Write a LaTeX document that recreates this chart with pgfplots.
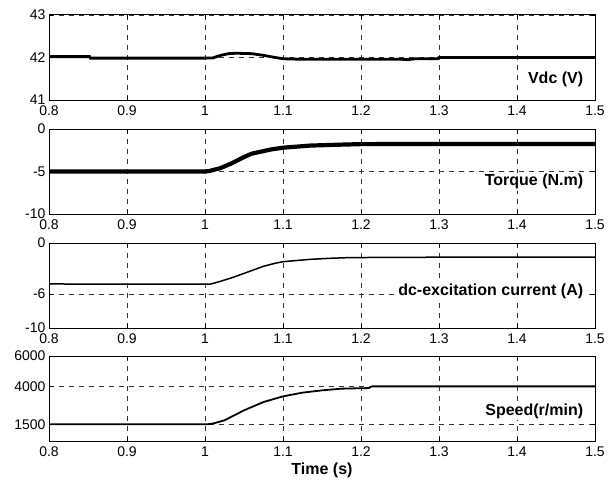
\documentclass[border=0pt]{standalone}
\usepackage{fontspec}
\setmainfont{Liberation Sans}
\usepackage{pgfplots}
\pgfplotsset{compat=1.18}

\pgfplotsset{panel/.style={
  scale only axis, width=546pt, height=85pt, anchor=north west,
  xmin=0.8, xmax=1.5, xtick={0.8,0.9,1,1.1,1.2,1.3,1.4,1.5},
  grid=major,
  major grid style={black!80, dash pattern=on 5pt off 5pt, line width=0.5pt},
  axis line style={line width=1pt},
  tick style={black, line width=0.6pt}, major tick length=4pt,
  tick label style={font=\fontsize{14}{14}\selectfont},
  xticklabel style={yshift=-2pt},
  /pgf/number format/assume math mode=true,
  /pgf/number format/1000 sep={},
  scaled ticks=false,
}}
\tikzset{lbl/.style={anchor=east, fill=white, inner sep=1.5pt,
  font=\bfseries\fontsize{16}{16}\selectfont}}

\begin{document}
\begin{tikzpicture}
\useasboundingbox (0,0) rectangle (609pt,-484pt);

% Vdc
\begin{axis}[panel, at={(49pt,-15pt)}, ymin=41, ymax=43, ytick={41,42,43}]
\addplot[black, line width=2.8pt] coordinates {
  (0.8,42.02)(0.852,42.02)(0.853,41.985)(1.0,41.985)(1.01,41.99)(1.02,42.05)
  (1.03,42.09)(1.04,42.10)(1.06,42.09)(1.075,42.05)(1.09,42.0)(1.1,41.97)
  (1.12,41.96)(1.25,41.96)(1.26,41.95)(1.27,41.97)(1.298,41.97)(1.3,42.0)(1.5,42.0)};
\node[lbl] at (axis cs:1.487,41.49) {Vdc (V)};
\end{axis}

% Torque
\begin{axis}[panel, at={(49pt,-129pt)}, ymin=-10, ymax=0, ytick={-10,-5,0}]
\addplot[black, line width=4.2pt] coordinates {
  (0.8,-5)(1.0,-5)(1.005,-4.95)(1.02,-4.6)(1.035,-4.0)(1.05,-3.3)(1.06,-2.9)
  (1.085,-2.4)(1.1,-2.2)(1.135,-1.95)(1.17,-1.85)(1.2,-1.78)(1.3,-1.76)(1.5,-1.76)};
\node[lbl] at (axis cs:1.487,-6.2) {Torque (N.m)};
\end{axis}

% dc-excitation current
\begin{axis}[panel, at={(49pt,-243pt)}, ymin=-10, ymax=0, ytick={-10,-6,0}]
\addplot[black, line width=1.5pt] coordinates {
  (0.8,-4.82)(1.0,-4.85)(1.008,-4.82)(1.02,-4.5)(1.035,-4.07)(1.055,-3.41)
  (1.075,-2.74)(1.09,-2.38)(1.1,-2.2)(1.135,-1.92)(1.16,-1.8)(1.184,-1.72)
  (1.25,-1.68)(1.5,-1.65)};
\node[lbl] at (axis cs:1.487,-5.65) {dc-excitation current (A)};
\end{axis}

% Speed
\begin{axis}[panel, at={(49pt,-356pt)}, ymin=400, ymax=6000, ytick={1500,4000,6000},
  xlabel={Time (s)}, xlabel style={font=\bfseries\fontsize{16}{16}\selectfont}]
\addplot[black, line width=1.8pt] coordinates {
  (0.8,1500)(1.003,1500)(1.01,1546)(1.025,1763)(1.05,2421)(1.075,2968)(1.1,3342)
  (1.125,3586)(1.15,3737)(1.175,3849)(1.21,3888)(1.214,4000)(1.5,4000)};
\node[lbl] at (axis cs:1.487,2374) {Speed(r/min)};
\end{axis}
\end{tikzpicture}
\end{document}
